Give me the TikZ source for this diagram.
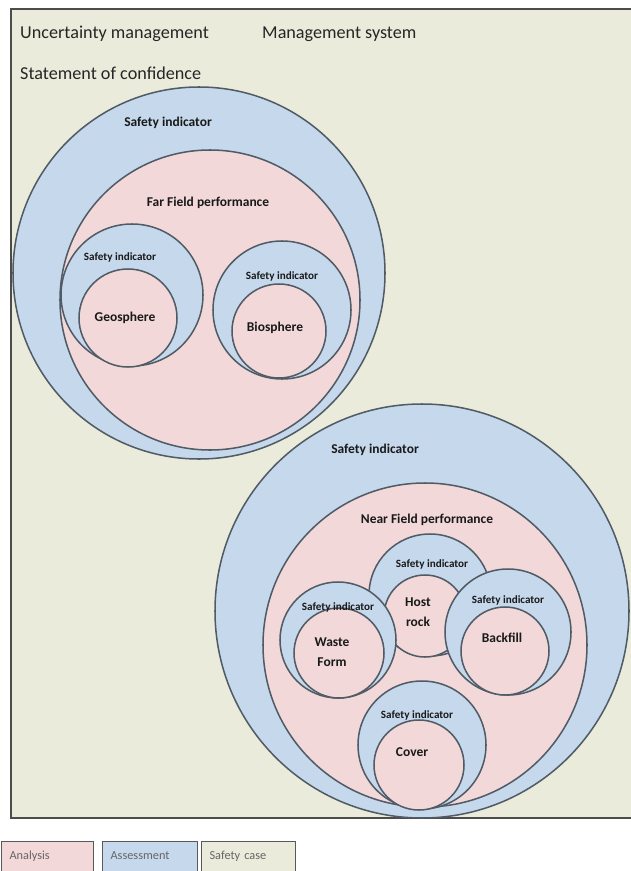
\documentclass[tikz,border=0pt]{standalone}
\usepackage{fontspec}
\setmainfont{Carlito}
\usepackage{tikz}
\usepackage{xcolor}

\definecolor{analysis}{HTML}{F2D8D9}
\definecolor{assessment}{HTML}{C6D9EC}
\definecolor{safetycase}{HTML}{EAEBDB}
\definecolor{ringline}{HTML}{505B66}

\begin{document}
\begin{tikzpicture}[x=0.03cm, y=-0.03cm,
    si/.style={circle, draw=ringline, line width=1.3pt, fill=assessment,
      inner sep=0pt, minimum size=#1*0.06cm},
    an/.style={si=#1, fill=analysis},
    lbl/.style={font=\bfseries\fontsize{11.5}{17}\selectfont, text=black!90, align=center, inner sep=0pt},
    silbl/.style={font=\bfseries\fontsize{9.5}{11}\selectfont, text=black!90, inner sep=0pt},
    head/.style={font=\fontsize{15.5}{18}\selectfont, text=black!85, anchor=base west, inner sep=0pt},
    key/.style={draw=black!65, line width=1pt, anchor=north west, align=left,
      font=\fontsize{10.5}{12}\selectfont, text=black!60, inner xsep=0.24cm, inner ysep=0pt,
      text height=0.54cm, text depth=1cm},
  ]
  \useasboundingbox (0,0) rectangle (630,871);

  % safety case frame
  \node[draw=black!70, line width=1.3pt, fill=safetycase, minimum width=640*0.03cm,
    minimum height=809*0.03cm, anchor=north west, inner sep=0pt] (case) at (10,8) {};
  \node[head] (unc) at (20,39) {Uncertainty management};
  \node[head] (mgmt) at (262,39) {Management system};
  \node[head] (conf) at (20,80) {Statement of confidence};

  % far field
  \node[si=186] (ff) at (199,273) {};
  \node[an=150] (ffp) at (210,300) {};
  \node[si=71] (geos) at (132,295) {};
  \node[an=49] (geo) at (128,318) {};
  \node[si=69] (bios) at (282,310) {};
  \node[an=47] (bio) at (279,331) {};
  \node[lbl] at (168,123) {Safety indicator};
  \node[lbl] at (208,203) {Far Field performance};
  \node[silbl] at (120,257) {Safety indicator};
  \node[lbl] at (125,318) {Geosphere};
  \node[silbl] at (282,276) {Safety indicator};
  \node[lbl] at (275,328) {Biosphere};

  % near field
  \node[si=207] (nf) at (422,611) {};
  \node[an=162] (nfp) at (425,645) {};
  \node[si=61] (hosts) at (430,595) {};
  \node[an=41] (host) at (425,616) {};
  \node[si=58] (wastes) at (338,640) {};
  \node[an=45] (waste) at (339,653) {};
  \node[si=63] (backs) at (508,632) {};
  \node[an=44] (back) at (505,651) {};
  \node[si=64] (covers) at (422,745) {};
  \node[an=45] (cover) at (419,765) {};
  \node[lbl] at (375,450) {Safety indicator};
  \node[lbl] at (427,520) {Near Field performance};
  \node[silbl] at (432,564) {Safety indicator};
  \node[lbl] at (418,612) {Host\\rock};
  \node[silbl] at (338,607) {Safety indicator};
  \node[lbl] at (332,652) {Waste\\Form};
  \node[silbl] at (508,600) {Safety indicator};
  \node[lbl] at (502,638) {Backfill};
  \node[silbl] at (417,715) {Safety indicator};
  \node[lbl] at (412,752) {Cover};

  % legend
  \node[key, fill=analysis, text width=2.28cm] (kana) at (1,841) {Analysis};
  \node[key, fill=assessment, text width=2.37cm] (kass) at (102,841) {Assessment};
  \node[key, fill=safetycase, text width=2.34cm] (kcase) at (201,841) {Safety case};
\end{tikzpicture}
\end{document}
